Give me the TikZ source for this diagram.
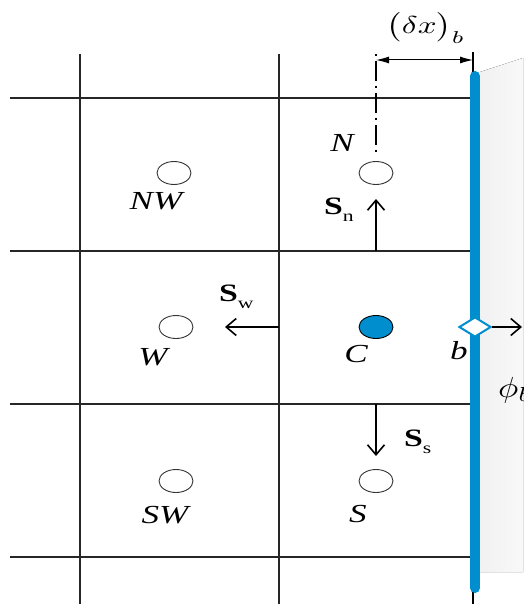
\documentclass[tikz,border=0pt]{standalone}
\usepackage{fontspec}
\setmainfont{Liberation Serif}
\usetikzlibrary{arrows.meta,shapes.geometric}
\definecolor{wallblue}{RGB}{0,142,207}
\newcommand{\wider}[1]{\scalebox{1.35}[1]{#1}}
\tikzset{
  gridline/.style={line width=1.4pt, black!85},
  cell/.style={ellipse, draw=black!80, line width=0.9pt, minimum width=34pt, minimum height=23pt, inner sep=0pt},
  lbl/.style={font=\fontsize{26}{26}\selectfont\itshape, inner sep=0pt},
  vlbl/.style={font=\fontsize{25}{25}\selectfont\bfseries, inner sep=0pt, anchor=south west},
  vec/.style={line width=1.8pt, -{Straight Barb[length=10pt,width=17pt,line width=1.6pt]}},
  dimarrow/.style={line width=1pt, {Latex[length=13pt,width=7pt]}-{Latex[length=13pt,width=7pt]}},
}
\newcommand{\vsub}[1]{\wider{S\raisebox{-7pt}{\fontsize{16}{16}\selectfont\mdseries #1}}}
\begin{document}
\begin{tikzpicture}[x=1pt,y=-1pt]
\useasboundingbox (0,0) rectangle (523,604);
% shaded body right of the wall
\fill[left color=gray!11, right color=gray!5] (480,72) -- (523,58) -- (523,572) -- (480,572) -- cycle;
% grid
\foreach \yy in {98,251,404,557} \draw[gridline] (10,\yy) -- (473,\yy);
\draw[gridline] (80,54) -- (80,604);
\draw[gridline] (279,54) -- (279,604);
% wall
\draw[black, line width=1.2pt] (473,52) -- (473,604);
\draw[wallblue, line width=10pt, line cap=round] (475,76) -- (475,588);
% cell centres
\node[cell] (NW) at (174,173) {};
\node[cell] (N)  at (376,173) {};
\node[cell] (W)  at (176,327) {};
\node[cell, fill=wallblue, draw=black] (C) at (376,327) {};
\node[cell] (SW) at (176,481) {};
\node[cell] (S)  at (376,481) {};
% boundary point
\node[diamond, draw=wallblue, fill=white, line width=2pt, minimum width=32pt, minimum height=20pt, inner sep=0pt, aspect=1.6] (bd) at (475,327) {};
% labels
\node[lbl] (lN)  at (342,143) {\wider{N}};
\node[lbl] (lNW) at (156,201) {\wider{NW}};
\node[lbl] (lW)  at (153,357) {\wider{W}};
\node[lbl] (lC)  at (356,354) {\wider{C}};
\node[lbl] (lS)  at (358,514) {\wider{S}};
\node[lbl] (lSW) at (165,515) {\wider{SW}};
\node[lbl] (lb)  at (459,351) {\wider{b}};
\node[inner sep=0pt, anchor=west] (lphi) at (498,390) {\scalebox{3.4}[2.9]{$\phi_b$}};
% fluxes
\coordinate (nA) at (376,251); \coordinate (nB) at (376,199);
\coordinate (wA) at (279,327); \coordinate (wB) at (225,327);
\coordinate (sA) at (376,404); \coordinate (sB) at (376,456);
\coordinate (bB) at (522,327);
\draw[vec] (nA) -- (nB);
\draw[vec] (wA) -- (wB);
\draw[vec] (sA) -- (sB);
\draw[vec, line width=1.2pt] (bd.east) -- (bB);
\node[vlbl] (lSn) at (324,222) {\vsub{n}};
\node[vlbl] (lSw) at (219,309) {\vsub{w}};
\node[vlbl] (lSs) at (404,454) {\vsub{s}};
% dimension
\coordinate (dT) at (376,54); \coordinate (dB) at (376,154);
\draw[line width=1.2pt, dash pattern=on 2pt off 5pt on 20pt off 5pt] (dT) -- (dB);
\coordinate (dL) at (376,60); \coordinate (dR) at (473,60);
\draw[dimarrow] (dL) -- (dR);
\node[inner sep=0pt] (ldx) at (426,28) {\scalebox{3.3}[2.45]{$\bigl(\delta x\bigr)_{b}$}};
\end{tikzpicture}
\end{document}
